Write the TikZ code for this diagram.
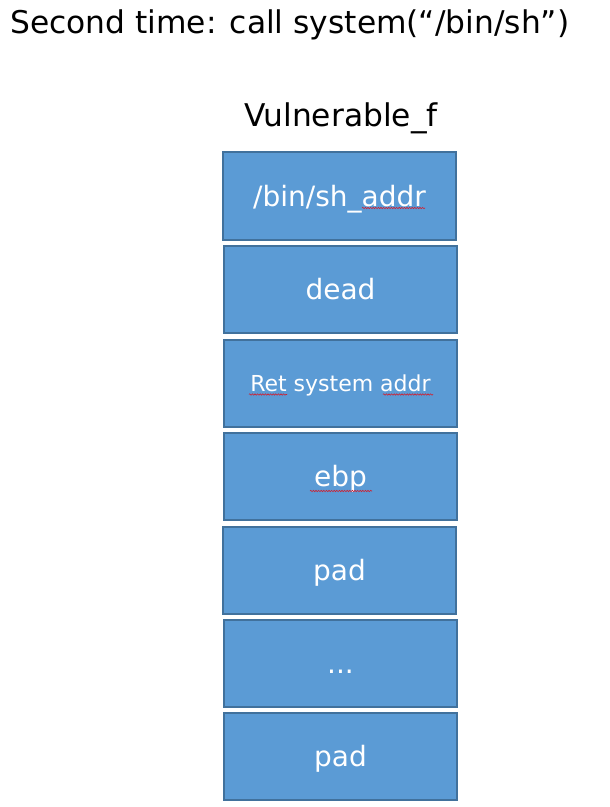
\documentclass[tikz,border=0pt]{standalone}
\usepackage{fontspec}
\setmainfont{DejaVu Sans}
\usetikzlibrary{decorations.pathmorphing}
\definecolor{cellfill}{HTML}{5B9BD5}
\definecolor{celledge}{HTML}{41719C}
\definecolor{squigred}{HTML}{D02030}
\tikzset{
  cell/.style={draw=celledge, fill=cellfill, line width=1.8pt,
    minimum width=233.5pt, minimum height=87.5pt, inner sep=0pt,
    text=white, text height=20.4pt, text depth=0pt,
    font=\fontsize{28}{34}\selectfont},
  smallcell/.style={cell, text height=16pt, font=\fontsize{22}{26}\selectfont},
  heading/.style={inner sep=0pt, text=black, font=\fontsize{31.3}{37}\selectfont},
  squig/.style={draw=squigred, line width=0.6pt,
    decorate, decoration={snake, amplitude=0.7pt, segment length=2.6pt}}
}
\begin{document}
\begin{tikzpicture}[x=1pt,y=-1pt]
\useasboundingbox (0,0) rectangle (610,807);
\node[heading, anchor=base west] (title) at (10,33) {Second time: call system(“/bin/sh”)};
\node[heading, anchor=base] (fname) at (341,126) {Vulnerable\_f};
\node[cell] (b1) at (339.5,196) {/bin/sh\_addr};
\node[cell] (b2) at (340.5,289.5) {dead};
\node[smallcell] (b3) at (340.5,383.5) {Ret system addr};
\node[cell] (b4) at (340.5,476.5) {ebp};
\node[cell] (b5) at (339.5,570.5) {pad};
\node[cell] (b6) at (340.5,663.5) {...};
\node[cell] (b7) at (340.5,756.5) {pad};
% spell-check underlines
\draw[squig] (362,208) -- (425,208);
\draw[squig] (249,394.5) -- (287,394.5);
\draw[squig] (383,394.5) -- (433,394.5);
\draw[squig] (310,491) -- (372,491);
\end{tikzpicture}
\end{document}
